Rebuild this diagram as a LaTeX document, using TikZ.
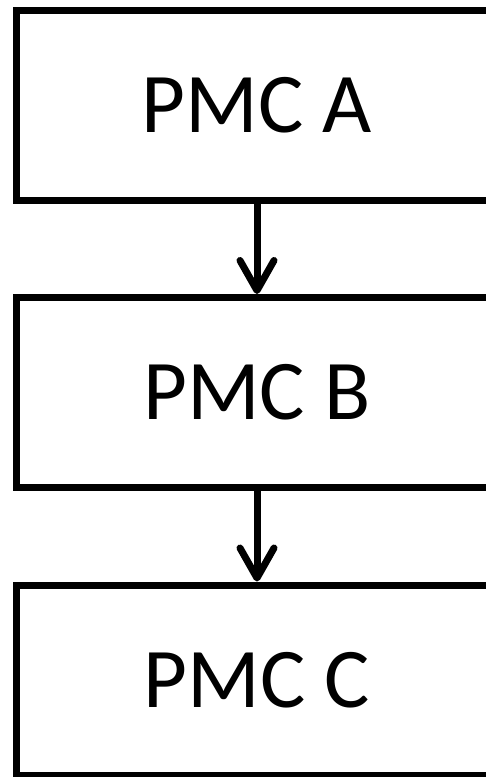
\documentclass[tikz,border=0pt]{standalone}
\usepackage{fontspec}
\setmainfont{Carlito}
\usetikzlibrary{arrows.meta}

\begin{document}
\begin{tikzpicture}[x=1pt,y=-1pt,
  pmcbox/.style={draw, line width=7pt, minimum width=482pt, minimum height=190pt,
    inner sep=0pt, font=\fontsize{85}{90}\selectfont},
  pmcarrow/.style={line width=7pt, -{Straight Barb[length=30pt,width=34pt,line cap=round,line join=round]}}]
\useasboundingbox (0,0) rectangle (486,777);
\clip (0,0) rectangle (486,777);

% Блоки
\node[pmcbox] (pmcA) at (257,105) {PMC A};
\node[pmcbox] (pmcB) at (257,392.5) {PMC B};
\node[pmcbox] (pmcC) at (257,680) {PMC C};

% Стрелки
\draw[pmcarrow] (pmcA) -- (pmcB);
\draw[pmcarrow] (pmcB) -- (pmcC);

\end{tikzpicture}
\end{document}
